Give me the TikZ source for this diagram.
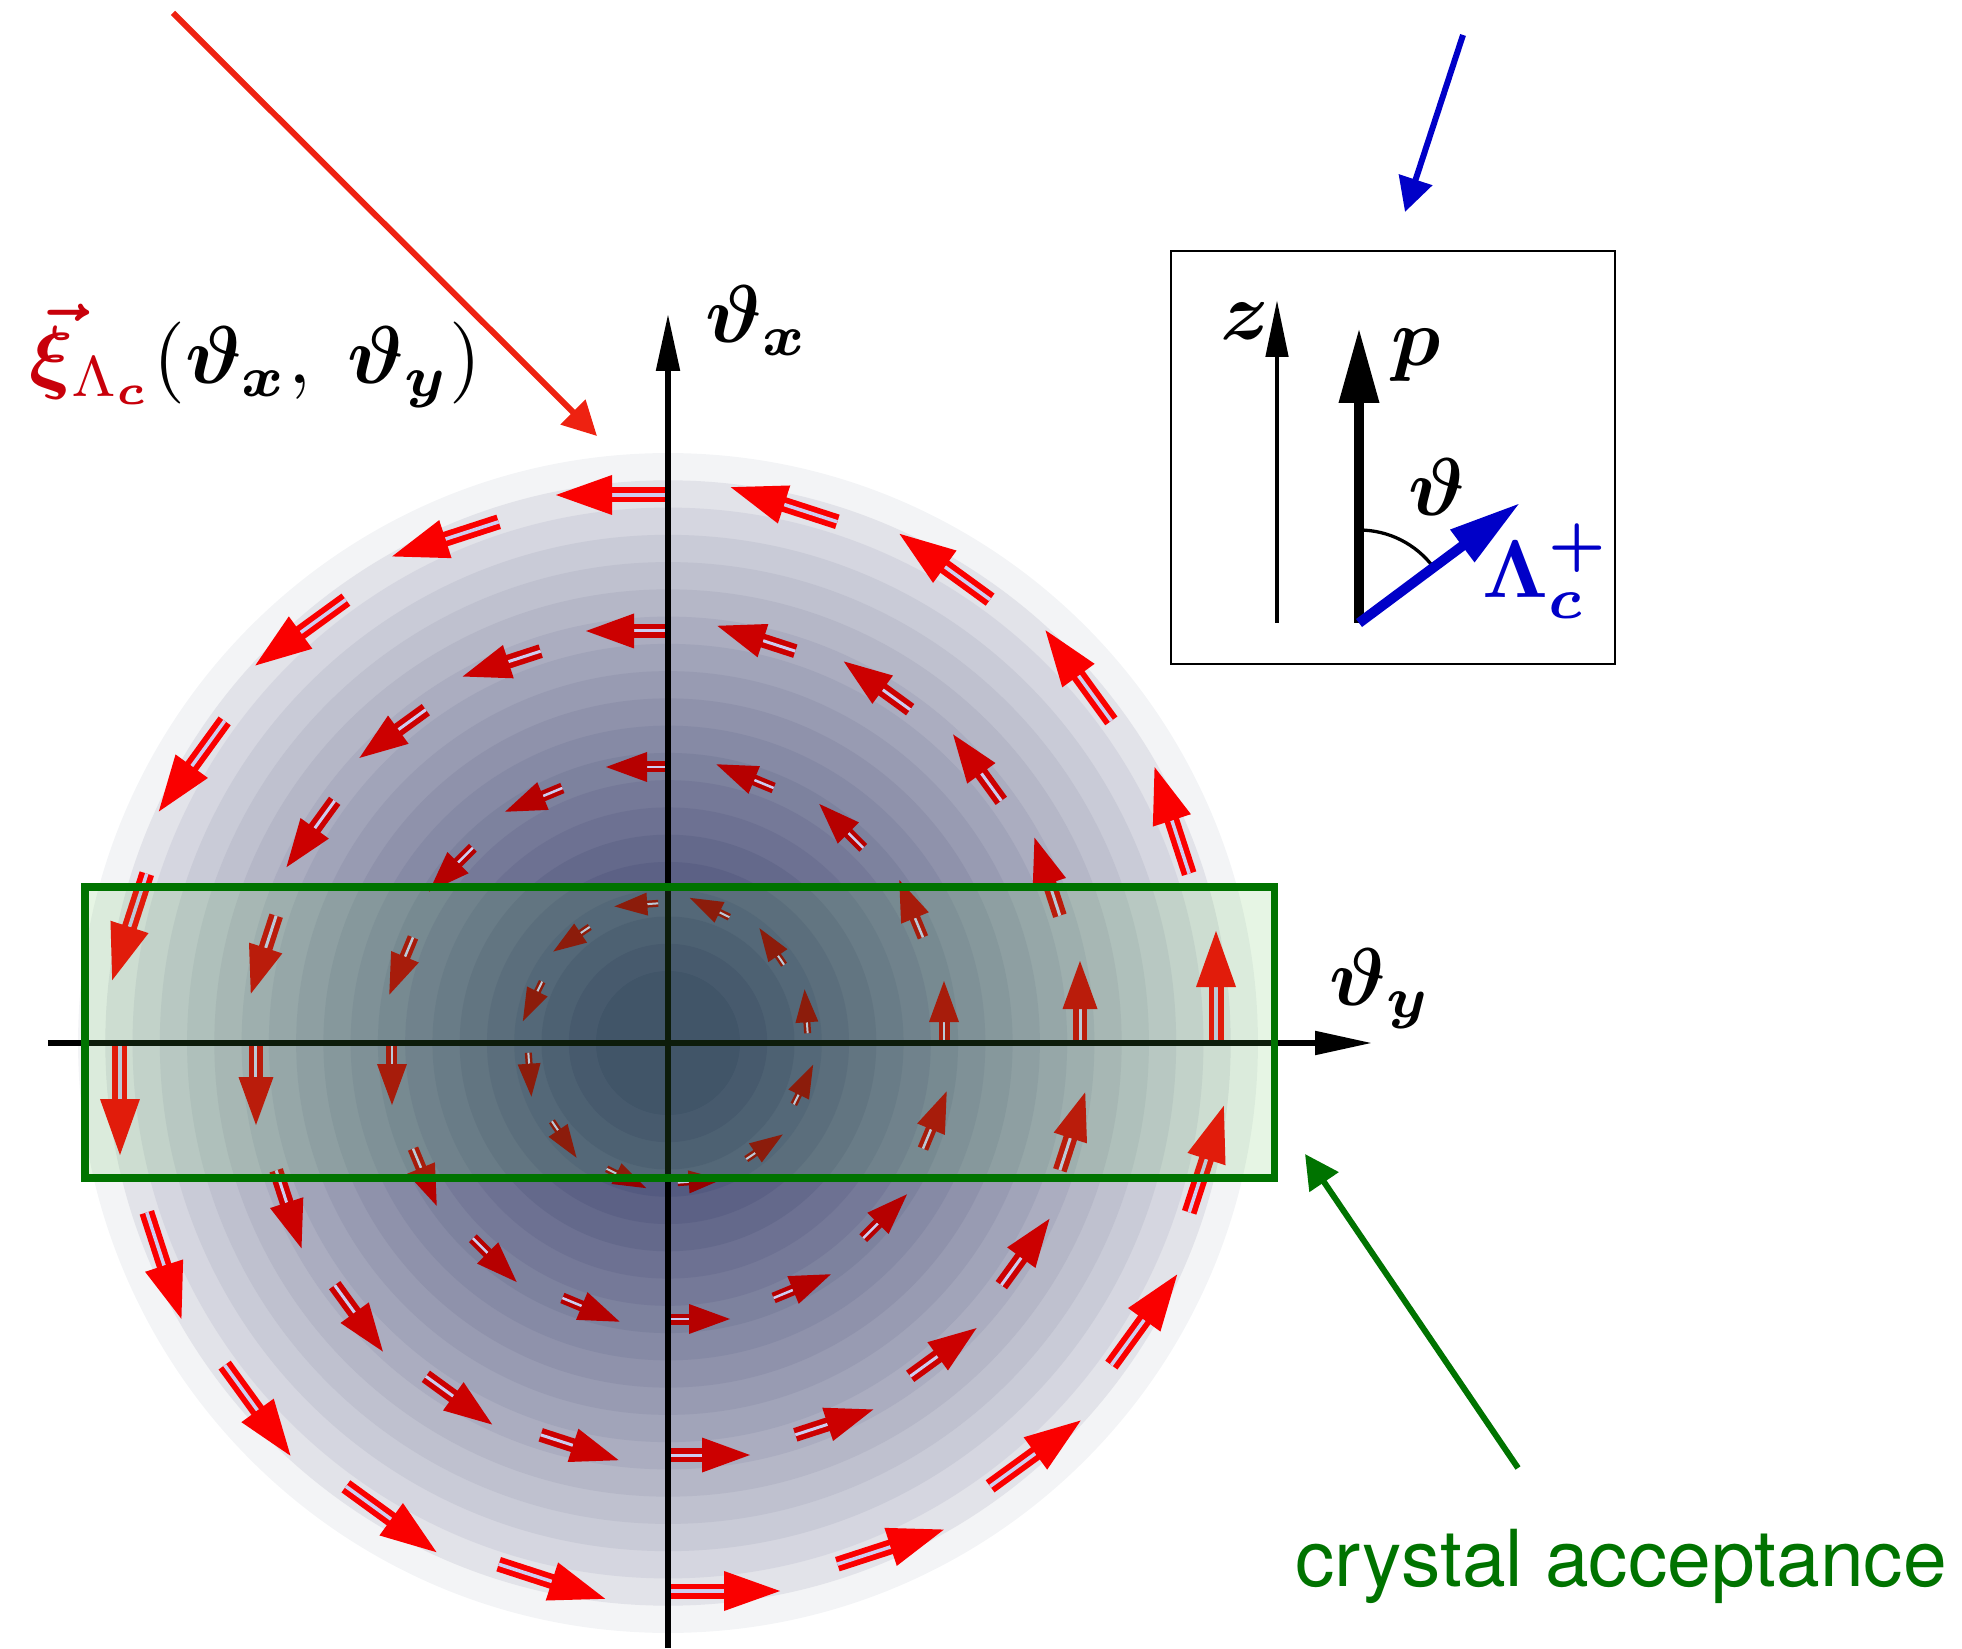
\documentclass[tikz,border=0pt]{standalone}
\usepackage{amsmath}
\usepackage{bm}
\usepackage{fontspec}
\newfontfamily\heros{TeX Gyre Heros}
\usetikzlibrary{arrows.meta}

\definecolor{core}{RGB}{61,67,110}
\definecolor{ringa}{RGB}{150,0,0}
\definecolor{ringb}{RGB}{182,0,0}
\definecolor{ringc}{RGB}{204,0,0}
\definecolor{ringd}{RGB}{250,0,0}
\definecolor{shaftline}{RGB}{205,205,240}
\definecolor{boxtint}{RGB}{88,188,75}
\definecolor{accgreen}{RGB}{0,115,0}
\definecolor{xired}{RGB}{200,0,10}
\definecolor{pointred}{RGB}{238,34,17}
\definecolor{lamblue}{RGB}{0,0,200}

\begin{document}
\begin{tikzpicture}[x=0.5pt, y=0.5pt,
  mathlabel/.style={scale=4.1, inner sep=0pt, anchor=base west},
  pointer/.style={line width=3pt, -{Triangle[length=17pt, width=17pt]}},
  axis/.style={line width=2.65pt, -{Triangle[length=28.5pt, width=11.5pt]}}]

\useasboundingbox (-668,-605) rectangle (1294,1043);

% angular distribution
\foreach \j in {19,18,...,0}{
  \pgfmathsetmacro{\mixpct}{6+94*((19-\j)/19+0.0001)^0.8}
  \fill[core!\mixpct!white] (0,0) circle[radius=72+27.26*\j];
}

% polarization field
\foreach \r/\n/\len/\hl/\hw/\sw/\iw/\col/\off in
  {140/12/44/33/23/7/2/ringa/4, 276/16/62/41/30/11/2.5/ringb/0,
   412/20/82/48/35/14/3/ringc/0, 548/20/112/56/40/15/3.5/ringd/0}{
  \pgfmathsetmacro{\angstep}{360/\n}
  \foreach \k in {1,...,\n}{
    \begin{scope}[shift={({\off+\k*\angstep}:\r)}, rotate={\off+\k*\angstep+90}]
      \draw[line width=\sw*0.5pt, \col] (0,0) -- (\len-\hl+1,0);
      \draw[line width=\iw*0.5pt, shaftline] (0,0) -- (\len-\hl,0);
      \fill[\col] (\len-\hl,-\hw/2) -- (\len,0) -- (\len-\hl,\hw/2) -- cycle;
    \end{scope}
  }
}

% axes
\coordinate (ybottom) at (0,-605);
\coordinate (ytop) at (0,729);
\coordinate (xleft) at (-620,0);
\coordinate (xright) at (704,0);
\draw[axis] (ybottom) -- (ytop);
\draw[axis] (xleft) -- (xright);

% crystal acceptance
\fill[boxtint, opacity=0.15] (-583,156) rectangle (606.5,-135);
\draw[accgreen, line width=3.75pt] (-583,156) rectangle (606.5,-135);

\node[mathlabel] (thx) at (36,700) {$\bm{\vartheta_x}$};
\node[mathlabel] (thy) at (660,38) {$\bm{\vartheta_y}$};
\node[mathlabel] (fieldlab) at (-640,659)
  {$\textcolor{xired}{\bm{\vec{\xi}}_{\Lambda_{\bm{c}}}}(\bm{\vartheta}_{\bm{x}},\;\bm{\vartheta}_{\bm{y}})$};
\node[text=accgreen, anchor=base west, inner sep=0pt,
  font=\heros\fontsize{39.3}{47}\selectfont] (acclab) at (627,-543) {crystal acceptance};

% pointers
\coordinate (redstart) at (-495,1030);
\coordinate (redtip) at (-71,607);
\coordinate (bluestart) at (795,1008);
\coordinate (bluetip) at (737,831);
\coordinate (greenstart) at (850,-425);
\coordinate (greentip) at (637,-111);
\draw[pointer, pointred] (redstart) -- (redtip);
\draw[pointer, lamblue] (bluestart) -- (bluetip);
\draw[pointer, accgreen] (greenstart) -- (greentip);

% inset
\draw[line width=1.35pt] (503,792) rectangle (947,379);
\coordinate (base) at (691,420);
\coordinate (ztail) at (609,420);
\coordinate (ztip) at (609,743);
\coordinate (ptip) at (691,715);
\coordinate (lamtip) at (852,540);
\draw[line width=2.35pt, -{Triangle[length=28.5pt, width=11pt]}] (ztail) -- (ztip);
\draw[line width=5pt, -{Triangle[length=37.5pt, width=19pt]}] (base) -- (ptip);
\draw[line width=1.65pt] (691,513) arc[start angle=90, end angle=36.7, radius=93];
\draw[lamblue, line width=5pt, -{Triangle[length=36pt, width=19pt]}] (base) -- (lamtip);

\node[mathlabel] (zlab) at (551,703) {$\bm{z}$};
\node[mathlabel] (plab) at (722,677) {$\bm{p}$};
\node[mathlabel] (thlab) at (739,527) {$\bm{\vartheta}$};
\node[mathlabel, text=lamblue] (lamlab) at (813,445) {$\bm{\Lambda}_{\bm{c}}^{\bm{+}}$};

\end{tikzpicture}
\end{document}
